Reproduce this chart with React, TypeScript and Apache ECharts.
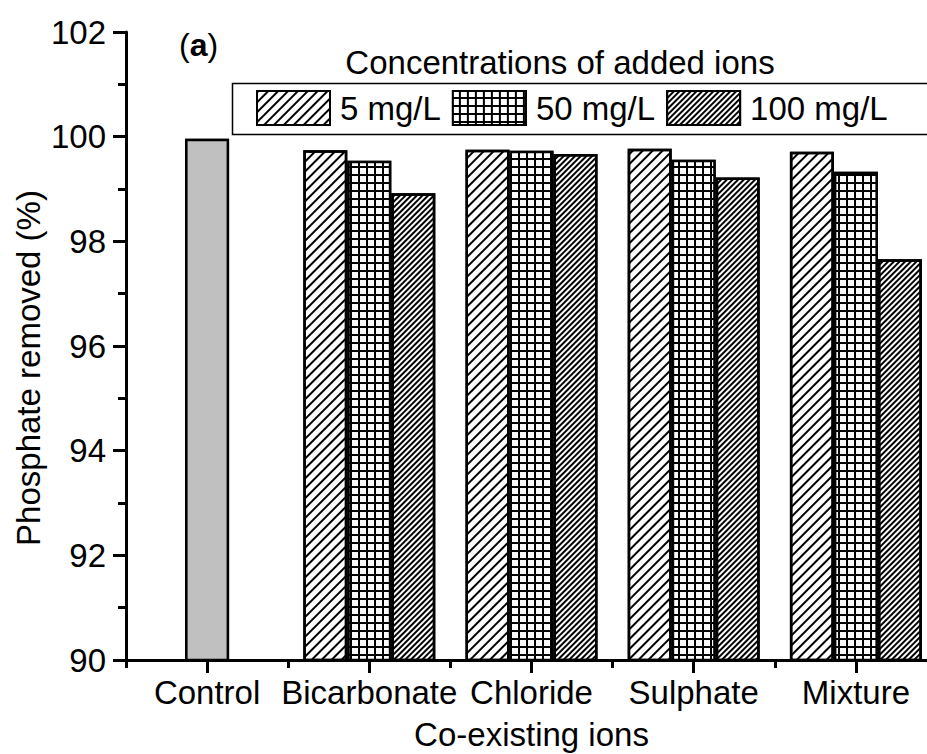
import React, { useEffect, useRef } from "react";
import * as echarts from "echarts";

const categories = ["Control", "Bicarbonate", "Chloride", "Sulphate", "Mixture"];
const seriesNames = ["5 mg/L", "50 mg/L", "100 mg/L"];
const control = 99.96;
const s5: (number | string)[] = ["-", 99.74, 99.75, 99.77, 99.71];
const s50: (number | string)[] = ["-", 99.54, 99.73, 99.56, 99.33];
const s100: (number | string)[] = ["-", 98.92, 99.67, 99.22, 97.66];
const yMin = 90;
const yMax = 102;
const yInterval = 2;

const FONT = "Liberation Sans, Arial, sans-serif";
const FS = 33;

export default function App() {
  const ref = useRef<HTMLDivElement>(null);
  useEffect(() => {
    if (!ref.current) return;
    const chart = echarts.init(ref.current, null, { renderer: "svg" });
    const border = { borderColor: "#000", borderWidth: 2.5 };
    const hatchWide = {
      color: "#000",
      backgroundColor: "#fff",
      symbol: "rect",
      symbolSize: 1,
      dashArrayX: [1, 0],
      dashArrayY: [2, 5],
      rotation: -Math.PI / 4,
    };
    const hatchDense = {
      color: "#000",
      backgroundColor: "#fff",
      symbol: "rect",
      symbolSize: 1,
      dashArrayX: [1, 0],
      dashArrayY: [2, 2],
      rotation: -Math.PI / 4,
    };
    const gridDecal = {
      color: "#fff",
      backgroundColor: "#000",
      symbol: "rect",
      symbolSize: 1,
      dashArrayX: [6, 2],
      dashArrayY: [6, 2],
      rotation: 0,
    };
    const solidGrey = {
      color: "#c0c0c0",
      backgroundColor: "#c0c0c0",
      symbol: "rect",
      symbolSize: 1,
      dashArrayX: [1, 0],
      dashArrayY: [1, 0],
      rotation: 0,
    };
    const data50 = s50.map((v, i) =>
      i === 0
        ? { value: control, itemStyle: { color: "#c0c0c0", decal: solidGrey, borderColor: "#000", borderWidth: 2.5 } }
        : v
    );
    const axisTextStyle = { color: "#000", fontSize: FS, fontFamily: FONT };
    const option: any = {
      animation: false,
      backgroundColor: "#fff",
      grid: { left: 126, right: -10, top: 32, bottom: 94, outerBoundsMode: "none", containLabel: false },
      legend: {
        left: 256,
        top: 90,
        icon: "rect",
        itemWidth: 73,
        itemHeight: 34,
        itemGap: 11,
        padding: 0,
        selectedMode: false,
        data: seriesNames,
        textStyle: { color: "#000", fontSize: FS, fontFamily: FONT, padding: [0, 0, 0, 5] },
      },
      xAxis: [
        {
          type: "category",
          data: categories,
          position: "bottom",
          axisLine: { show: true, lineStyle: { color: "#000", width: 3 } },
          axisTick: { show: true, alignWithLabel: true, length: 13, lineStyle: { color: "#000", width: 3 } },
          axisLabel: { ...axisTextStyle, interval: 0, margin: 16 },
          name: "Co-existing ions",
          nameLocation: "middle",
          nameGap: 58,
          nameTextStyle: axisTextStyle,
          splitLine: { show: false },
        },
        {
          type: "category",
          data: categories,
          position: "bottom",
          axisLine: { show: true, lineStyle: { color: "#000", width: 3 } },
          axisTick: { show: true, alignWithLabel: false, length: 8, lineStyle: { color: "#000", width: 3 } },
          axisLabel: { show: false },
          splitLine: { show: false },
        },
      ],
      yAxis: {
        type: "value",
        min: yMin,
        max: yMax,
        interval: yInterval,
        axisLine: { show: true, lineStyle: { color: "#000", width: 3 } },
        axisTick: { show: true, inside: false, length: 13, lineStyle: { color: "#000", width: 3 } },
        minorTick: { show: true, splitNumber: 2, length: 8, lineStyle: { color: "#000", width: 3 } },
        axisLabel: { ...axisTextStyle, margin: 20 },
        splitLine: { show: false },
        minorSplitLine: { show: false },
      },
      series: [
        {
          name: seriesNames[0],
          type: "bar",
          xAxisIndex: 0,
          data: s5,
          barWidth: 44,
          barGap: "0%",
          itemStyle: { color: "#fff", ...border, decal: hatchWide },
        },
        {
          name: seriesNames[1],
          type: "bar",
          xAxisIndex: 0,
          data: data50,
          barWidth: 44,
          barGap: "0%",
          itemStyle: { color: "#000", ...border, decal: gridDecal },
        },
        {
          name: seriesNames[2],
          type: "bar",
          xAxisIndex: 0,
          data: s100,
          barWidth: 44,
          barGap: "0%",
          itemStyle: { color: "#fff", ...border, decal: hatchDense },
        },
      ],
      graphic: [
        {
          type: "rect",
          left: 230,
          top: 81,
          shape: { x: 0, y: 0, width: 720, height: 51 },
          style: { fill: "none", stroke: "#000", lineWidth: 1.5 },
          z: 1,
        },
        {
          type: "text",
          x: 560,
          y: 46,
          style: {
            text: "Concentrations of added ions",
            font: `${FS}px ${FONT}`,
            fill: "#000",
            textAlign: "center",
            textVerticalAlign: "top",
          },
        },
        {
          type: "text",
          x: 179,
          y: 29,
          style: {
            text: "({b|a})",
            font: `32px ${FONT}`,
            fill: "#000",
            textAlign: "left",
            textVerticalAlign: "top",
            rich: { b: { fontWeight: "bold", fontSize: 32, fontFamily: FONT, fill: "#000" } },
          },
        },
        {
          type: "text",
          x: 28,
          y: 368,
          rotation: Math.PI / 2,
          style: {
            text: "Phosphate removed (%)",
            font: `${FS}px ${FONT}`,
            fill: "#000",
            textAlign: "center",
            textVerticalAlign: "middle",
          },
        },
      ],
    };
    chart.setOption(option);
    return () => chart.dispose();
  }, []);
  return (
    <div
      ref={ref}
      style={{ position: "fixed", left: 0, top: 0, width: 927, height: 754, background: "#fff" }}
    />
  );
}
